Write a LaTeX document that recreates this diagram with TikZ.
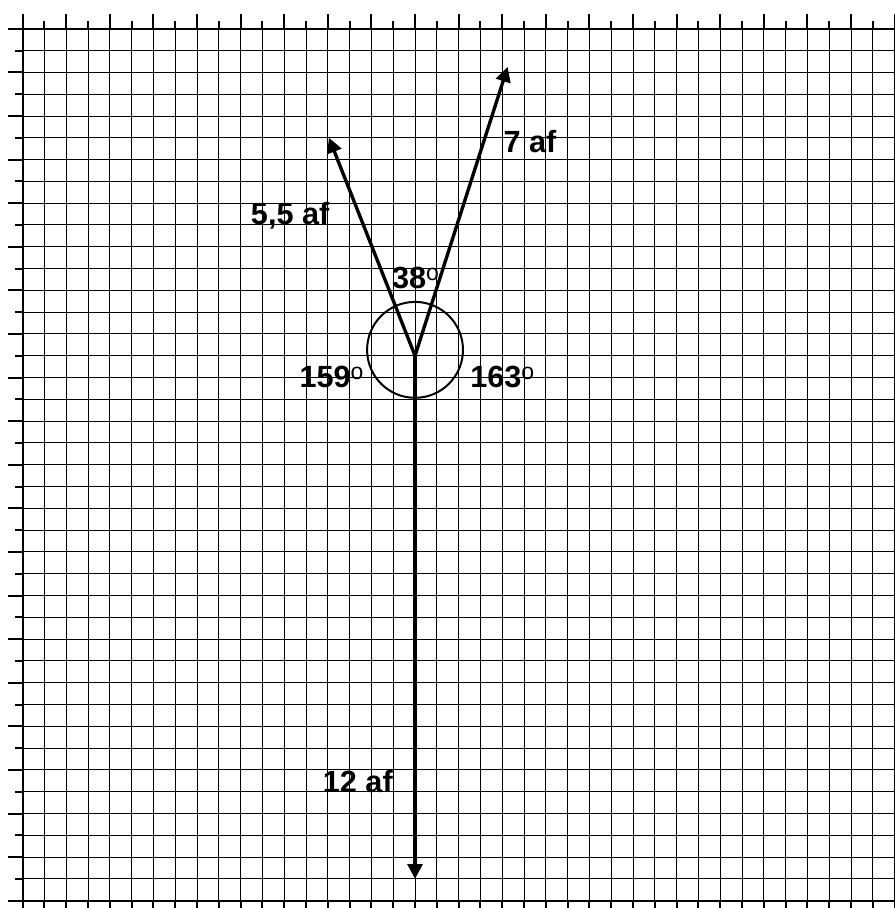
\documentclass[tikz,border=0pt]{standalone}
\usepackage{fontspec}
\setmainfont{Liberation Sans}
\usetikzlibrary{positioning, arrows.meta}
\newcommand{\degsup}{\raisebox{5.7pt}{\fontsize{15}{15}\selectfont\mdseries o}}

\begin{document}
\begin{tikzpicture}[x=0.5cm, y=0.5cm, >={Triangle[length=3.4mm, width=3.4mm]}]
    \tikzset{lbl/.style={inner sep=0pt, anchor=base west, font=\fontsize{20}{24}\selectfont\bfseries},
        force/.style={->, line width=2.2pt}}
    \useasboundingbox (-1.04,-0.335) rectangle (40.01,41.32);
    % Grid paper with border
    \draw[line width=0.6pt, step=0.5cm] (0,0) grid (40,40);
    \draw[line width=1.3pt] (0,0) rectangle (40,40);
    % Ticks: long on even lines, short on odd lines
    \foreach \i in {0,...,40} {
        \pgfmathsetmacro{\len}{ifthenelse(mod(\i,2)==0,0.69,0.37)}
        \draw[line width=1.3pt] (\i,40) -- ++(0,\len);
        \draw[line width=1.3pt] (\i,0) -- ++(0,-\len);
        \draw[line width=1.3pt] (0,\i) -- ++(-\len,0);
        \draw[line width=1.3pt] (40,\i) -- ++(\len,0);
    }
    % Common point and the three forces (2 squares per af)
    \coordinate (O) at (18,25);
    \coordinate (F1) at (14.05,35.0);
    \coordinate (F2) at (22.25,38.25);
    \coordinate (F3) at (18,1);
    \draw[line width=1.3pt] (18,25.27) circle (2.2);
    \draw[force] (O) -- (F1);
    \draw[force] (O) -- (F2);
    \draw[force] (O) -- (F3);
    % Magnitudes
    \node[lbl] (l55) at (10.46,31.0) {5,5 af};
    \node[lbl] (l7) at (22.05,34.33) {7 af};
    \node[lbl] (l12) at (13.76,4.97) {12 af};
    % Angles between the forces
    \node[lbl] (a38) at (16.93,28.07) {38\degsup};
    \node[lbl] (a159) at (12.69,23.53) {159\degsup};
    \node[lbl] (a163) at (20.52,23.53) {163\degsup};
\end{tikzpicture}
\end{document}
